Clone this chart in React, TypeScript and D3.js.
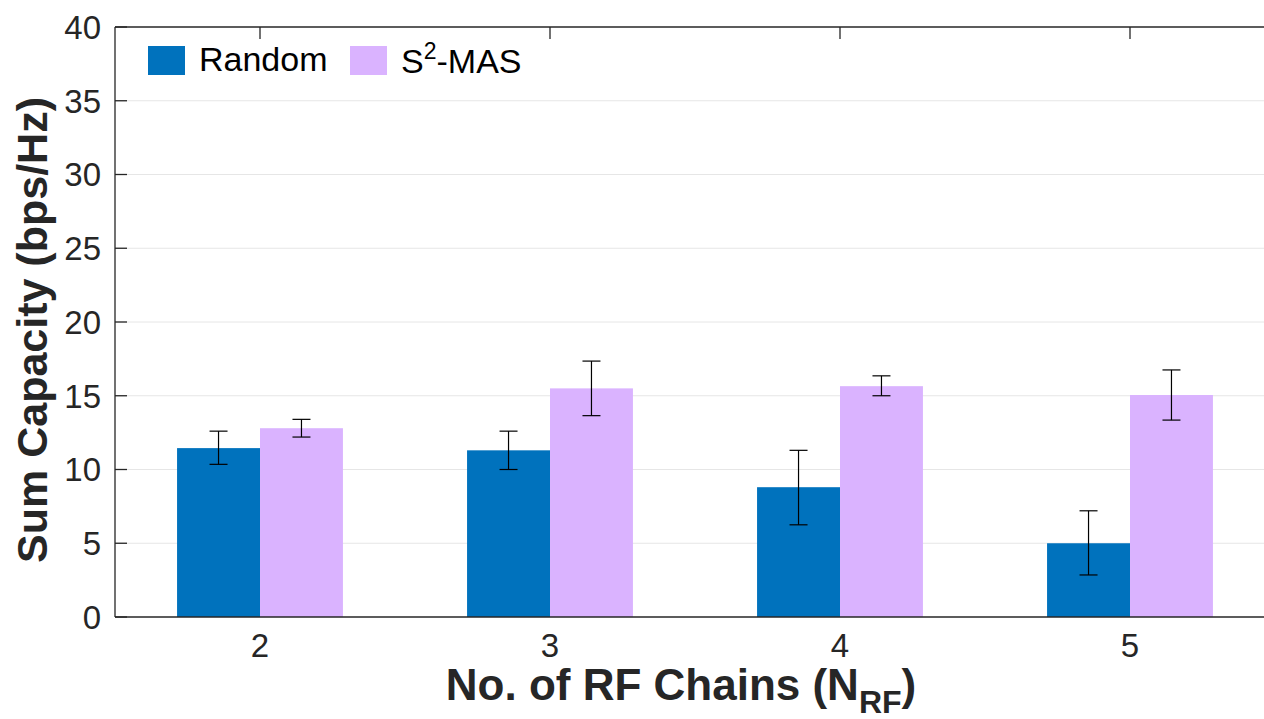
import React from "react";
import * as d3 from "d3";

const categories = [2, 3, 4, 5];
const seriesNames = ["Random", "S2-MAS"];
const randomMean = [11.45, 11.3, 8.8, 5.0];
const randomLow = [10.35, 10.0, 6.25, 2.85];
const randomHigh = [12.6, 12.6, 11.3, 7.2];
const masMean = [12.8, 15.5, 15.65, 15.05];
const masLow = [12.2, 13.65, 15.0, 13.35];
const masHigh = [13.4, 17.35, 16.35, 16.75];
const yTicks = [0, 5, 10, 15, 20, 25, 30, 35, 40];

const W = 1264;
const H = 719;
const FONT = "'Liberation Sans', Arial, Helvetica, sans-serif";
const TXT = "#262626";
const colors = ["#0072BD", "#DAB3FF"];

export default function App() {
  const x = d3.scaleLinear().domain([1.5, 5.5]).range([115, 1275]);
  const y = d3.scaleLinear().domain([0, 40]).range([617, 27]);
  const bw = 0.286; // bar width in data units
  const series = [
    { mean: randomMean, lo: randomLow, hi: randomHigh },
    { mean: masMean, lo: masLow, hi: masHigh },
  ];
  const barPx = x(bw) - x(0);

  return (
    <svg
      width={W}
      height={H}
      style={{ position: "fixed", left: 0, top: 0, background: "#fff" }}
      fontFamily={FONT}
    >
      <rect x={0} y={0} width={W} height={H} fill="#fff" />
      {/* grid */}
      {yTicks.slice(1, -1).map((t) => (
        <line key={t} x1={x(1.5)} x2={W} y1={y(t)} y2={y(t)} stroke="#e6e6e6" strokeWidth={1} />
      ))}
      {/* bars */}
      {series.map((s, si) =>
        categories.map((c, i) => {
          const x0 = si === 0 ? x(c - bw) : x(c);
          return (
            <rect
              key={`${si}-${c}`}
              x={x0}
              y={y(s.mean[i])}
              width={barPx}
              height={y(0) - y(s.mean[i])}
              fill={colors[si]}
            />
          );
        })
      )}
      {/* error bars */}
      {series.map((s, si) =>
        categories.map((c, i) => {
          const cx = si === 0 ? x(c - bw / 2) : x(c + bw / 2);
          return (
            <g key={`e${si}-${c}`} stroke="#000" strokeWidth={1.2}>
              <line x1={cx} x2={cx} y1={y(s.hi[i])} y2={y(s.lo[i])} />
              <line x1={cx - 9} x2={cx + 9} y1={y(s.hi[i])} y2={y(s.hi[i])} />
              <line x1={cx - 9} x2={cx + 9} y1={y(s.lo[i])} y2={y(s.lo[i])} />
            </g>
          );
        })
      )}
      {/* axes */}
      <g stroke={TXT} strokeWidth={1.3}>
        <line x1={x(1.5)} x2={W} y1={y(0)} y2={y(0)} />
        <line x1={x(1.5)} x2={W} y1={y(40)} y2={y(40)} />
        <line x1={x(1.5)} x2={x(1.5)} y1={y(0)} y2={y(40)} />
        {yTicks.map((t) => (
          <line key={t} x1={x(1.5)} x2={x(1.5) + 12} y1={y(t)} y2={y(t)} />
        ))}
        {categories.map((c) => (
          <line key={c} x1={x(c)} x2={x(c)} y1={y(40)} y2={y(40) + 12} />
        ))}
      </g>
      {/* tick labels */}
      {yTicks.map((t) => (
        <text
          key={t}
          x={101}
          y={y(t)}
          dy="0.36em"
          textAnchor="end"
          fontSize={33}
          fill={TXT}
        >
          {t}
        </text>
      ))}
      {categories.map((c) => (
        <text key={c} x={x(c)} y={657} textAnchor="middle" fontSize={33} fill={TXT}>
          {c}
        </text>
      ))}
      {/* axis labels */}
      <text x={681} y={700} textAnchor="middle" fontSize={44} fontWeight="bold" fill={TXT}>
        No. of RF Chains (N
        <tspan fontSize={32} dy={13}>RF</tspan>
        <tspan dy={-13}>)</tspan>
      </text>
      <text
        transform="translate(47,330) rotate(-90)"
        textAnchor="middle"
        fontSize={43}
        fontWeight="bold"
        fill={TXT}
      >
        Sum Capacity (bps/Hz)
      </text>
      {/* legend */}
      <rect x={148} y={46} width={37} height={29} fill={colors[0]} />
      <text x={199} y={71} fontSize={34} fill="#000">
        {seriesNames[0]}
      </text>
      <rect x={350} y={46} width={37} height={29} fill={colors[1]} />
      <text x={401} y={73} fontSize={34} fill="#000">
        S<tspan fontSize={23} dy={-14}>2</tspan>
        <tspan dy={14}>-MAS</tspan>
      </text>
    </svg>
  );
}
